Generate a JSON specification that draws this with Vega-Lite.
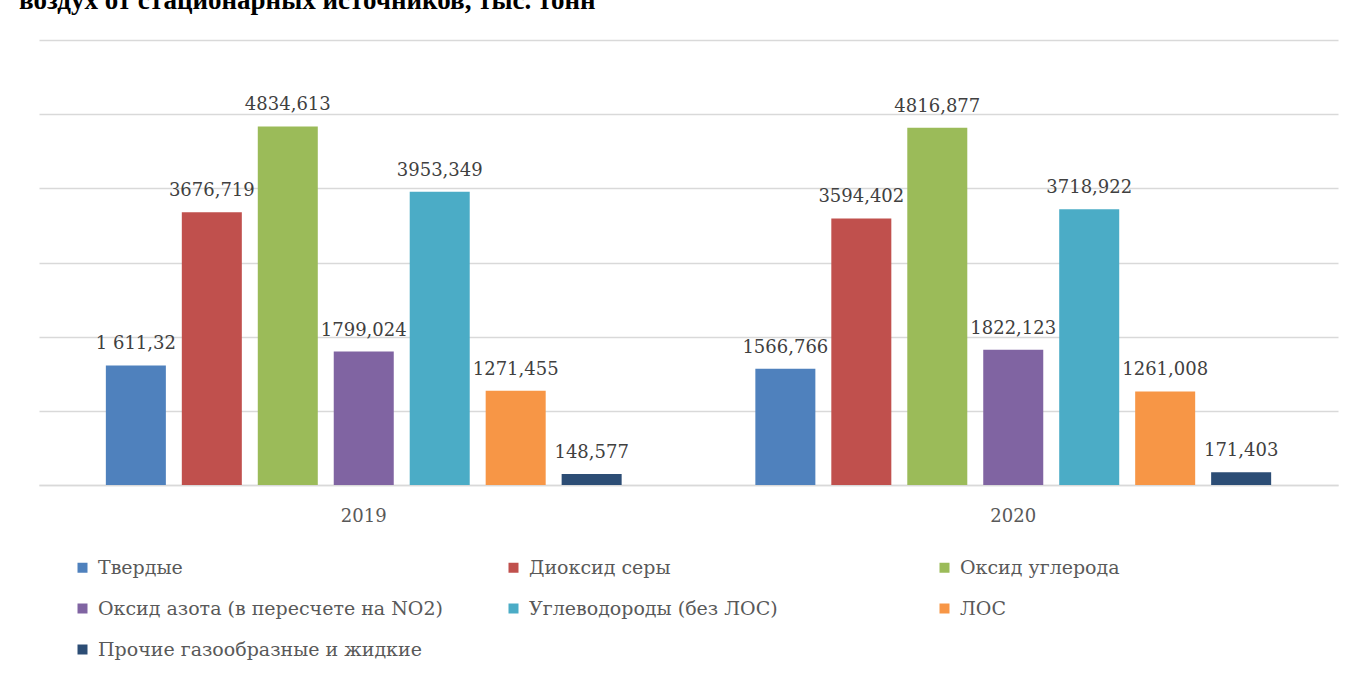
{
  "$schema": "https://vega.github.io/schema/vega-lite/v6.json",
  "autosize": {"type": "none"},
  "width": 1299,
  "height": 445,
  "padding": {"left": 39, "top": 40, "right": 19, "bottom": 192},
  "background": "white",
  "title": {
    "text": "воздух от стационарных источников, тыс. тонн",
    "anchor": "start",
    "frame": "group",
    "orient": "top",
    "baseline": "alphabetic",
    "offset": 31,
    "dy": 27,
    "dx": -20,
    "font": "Times New Roman",
    "fontSize": 27,
    "fontWeight": 700,
    "color": "#000000"
  },
  "config": {
    "view": {"stroke": null},
    "font": "DejaVu Serif"
  },
  "data": {
    "values": [
      {"year": "2019", "cat": "Твердые", "value": 1611.32, "label": "1 611,32"},
      {"year": "2019", "cat": "Диоксид серы", "value": 3676.719, "label": "3676,719"},
      {"year": "2019", "cat": "Оксид углерода", "value": 4834.613, "label": "4834,613"},
      {"year": "2019", "cat": "Оксид азота (в пересчете на NO2)", "value": 1799.024, "label": "1799,024"},
      {"year": "2019", "cat": "Углеводороды (без ЛОС)", "value": 3953.349, "label": "3953,349"},
      {"year": "2019", "cat": "ЛОС", "value": 1271.455, "label": "1271,455"},
      {"year": "2019", "cat": "Прочие газообразные и жидкие", "value": 148.577, "label": "148,577"},
      {"year": "2020", "cat": "Твердые", "value": 1566.766, "label": "1566,766"},
      {"year": "2020", "cat": "Диоксид серы", "value": 3594.402, "label": "3594,402"},
      {"year": "2020", "cat": "Оксид углерода", "value": 4816.877, "label": "4816,877"},
      {"year": "2020", "cat": "Оксид азота (в пересчете на NO2)", "value": 1822.123, "label": "1822,123"},
      {"year": "2020", "cat": "Углеводороды (без ЛОС)", "value": 3718.922, "label": "3718,922"},
      {"year": "2020", "cat": "ЛОС", "value": 1261.008, "label": "1261,008"},
      {"year": "2020", "cat": "Прочие газообразные и жидкие", "value": 171.403, "label": "171,403"}
    ]
  },
  "encoding": {
    "x": {
      "field": "year", "type": "nominal",
      "scale": {"paddingInner": 0, "paddingOuter": 0},
      "axis": {
        "title": null, "labelAngle": 0, "ticks": false,
        "domainColor": "#d9d9d9", "domainWidth": 1.5,
        "labelFont": "DejaVu Serif", "labelFontSize": 18, "labelColor": "#595959",
        "labelPadding": 22
      }
    },
    "xOffset": {
      "field": "cat", "type": "nominal",
      "sort": ["Твердые", "Диоксид серы", "Оксид углерода", "Оксид азота (в пересчете на NO2)", "Углеводороды (без ЛОС)", "ЛОС", "Прочие газообразные и жидкие"],
      "scale": {"paddingInner": 0.21, "paddingOuter": 0.88}
    },
    "y": {
      "field": "value", "type": "quantitative",
      "scale": {"domain": [0, 6000], "nice": false},
      "axis": {
        "title": null, "labels": false, "ticks": false, "domain": false,
        "values": [0, 1000, 2000, 3000, 4000, 5000, 6000],
        "gridColor": "#d9d9d9", "gridWidth": 1.5
      }
    }
  },
  "layer": [
    {
      "mark": {"type": "bar"},
      "encoding": {
        "color": {
          "field": "cat", "type": "nominal",
          "sort": ["Твердые", "Диоксид серы", "Оксид углерода", "Оксид азота (в пересчете на NO2)", "Углеводороды (без ЛОС)", "ЛОС", "Прочие газообразные и жидкие"],
          "scale": {
            "domain": ["Твердые", "Диоксид серы", "Оксид углерода", "Оксид азота (в пересчете на NO2)", "Углеводороды (без ЛОС)", "ЛОС", "Прочие газообразные и жидкие"],
            "range": ["#4F81BD", "#C0504D", "#9BBB59", "#8064A2", "#4BACC6", "#F79646", "#2C4D75"]
          },
          "legend": {
            "title": null,
            "orient": "none",
            "legendX": 34,
            "legendY": 518,
            "direction": "horizontal",
            "columns": 3,
            "gridAlign": "all",
            "columnPadding": 61,
            "rowPadding": 21,
            "padding": 0,
            "symbolType": "square",
            "symbolSize": 100,
            "symbolStrokeWidth": 0,
            "labelOffset": 6,
            "labelFont": "DejaVu Serif",
            "labelFontSize": 19,
            "labelColor": "#595959",
            "labelLimit": 600
          }
        }
      }
    },
    {
      "mark": {
        "type": "text", "baseline": "alphabetic", "dy": -16,
        "font": "DejaVu Serif", "fontSize": 18, "color": "#404040"
      },
      "encoding": {
        "text": {"field": "label", "type": "nominal"}
      }
    }
  ]
}
